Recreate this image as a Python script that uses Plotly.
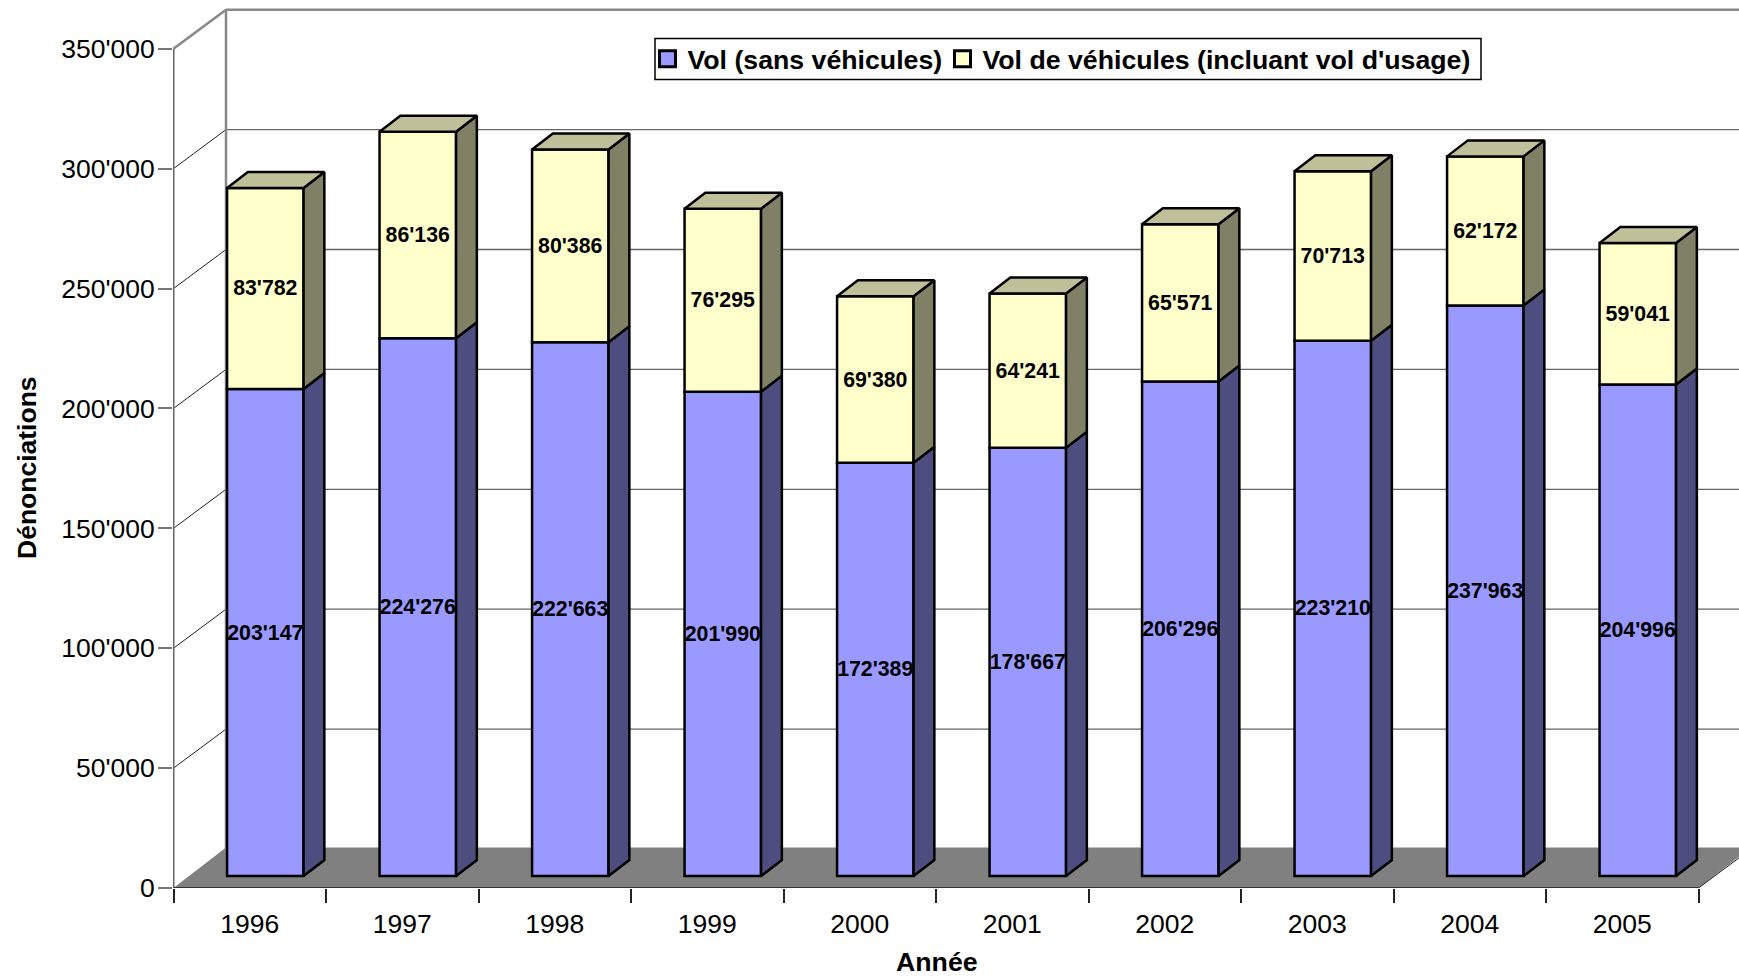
import plotly.graph_objects as go

# ---- data ----
years = ["1996", "1997", "1998", "1999", "2000", "2001", "2002", "2003", "2004", "2005"]
vol_sans = [203147, 224276, 222663, 201990, 172389, 178667, 206296, 223210, 237963, 204996]
vol_vehicules = [83782, 86136, 80386, 76295, 69380, 64241, 65571, 70713, 62172, 59041]
y_ticks = [0, 50000, 100000, 150000, 200000, 250000, 300000, 350000]
series_names = ["Vol (sans véhicules)", "Vol de véhicules (incluant vol d'usage)"]

# ---- oblique projection, in axis units ----
PX_X = 152.5             # px per category
PX_Y = 119.9 / 50000     # px per value unit
WIDTH, HEIGHT = 1739, 978
M_L, M_B = 173, 90
WALL_DX, WALL_DY = 52.5 / PX_X, 39 / PX_Y
BAR_DX, BAR_DY = 0.102, 11.9 / PX_Y
BAR_W = 76.5 / PX_X
DEPTH_DX, DEPTH_DY = 20.8 / PX_X, 16 / PX_Y
X_MAX = (WIDTH - M_L) / PX_X - 0.5 / PX_X
X_MIN = -0.5 / PX_X
Y_MAX = (HEIGHT - M_B) / PX_Y

FONT = "Liberation Sans, Arial, sans-serif"
BLUE, BLUE_SIDE = "#9999FF", "#4D4D80"
YEL, YEL_SIDE, YEL_TOP = "#FFFFCC", "#808066", "#BFBF99"
OUTLINE = 2.5
n = len(years)
centers = [i + 0.5 for i in range(n)]
bar_x = [c + BAR_DX for c in centers]
fmt = lambda v: f"{v:,}".replace(",", "'")
tops = [a + b for a, b in zip(vol_sans, vol_vehicules)]

fig = go.Figure()

# front faces
fig.add_bar(x=bar_x, y=vol_sans, base=[BAR_DY] * n, width=BAR_W, name=series_names[0],
            marker=dict(color=BLUE, line=dict(color="black", width=OUTLINE)),
            text=[fmt(v) for v in vol_sans], showlegend=False)
fig.add_bar(x=bar_x, y=vol_vehicules, base=[BAR_DY + v for v in vol_sans], width=BAR_W,
            name=series_names[1],
            marker=dict(color=YEL, line=dict(color="black", width=OUTLINE)),
            text=[fmt(v) for v in vol_vehicules], showlegend=False)
fig.update_traces(textposition="inside", insidetextanchor="middle", textangle=0,
                  constraintext="none", hoverinfo="skip",
                  insidetextfont=dict(family=FONT, size=21.3, color="black"),
                  textfont=dict(family=FONT, size=21.3, color="black", weight="bold"))


def side_faces(lows, highs):
    xs, ys = [], []
    for bx, lo, hi in zip(bar_x, lows, highs):
        r = bx + BAR_W / 2
        xs += [r, r + DEPTH_DX, r + DEPTH_DX, r, r, None]
        ys += [lo + BAR_DY, lo + BAR_DY + DEPTH_DY, hi + BAR_DY + DEPTH_DY, hi + BAR_DY, lo + BAR_DY, None]
    return xs, ys


def top_faces(highs):
    xs, ys = [], []
    for bx, hi in zip(bar_x, highs):
        l, r = bx - BAR_W / 2, bx + BAR_W / 2
        xs += [l, r, r + DEPTH_DX, l + DEPTH_DX, l, None]
        ys += [hi + BAR_DY, hi + BAR_DY, hi + BAR_DY + DEPTH_DY, hi + BAR_DY + DEPTH_DY, hi + BAR_DY, None]
    return xs, ys


for (xs, ys), col in [(side_faces([0] * n, vol_sans), BLUE_SIDE),
                      (side_faces(vol_sans, tops), YEL_SIDE),
                      (top_faces(tops), YEL_TOP)]:
    fig.add_scatter(x=xs, y=ys, mode="lines", fill="toself", fillcolor=col,
                    line=dict(color="black", width=OUTLINE), showlegend=False,
                    hoverinfo="skip", connectgaps=False)

# front axis lines
fig.add_scatter(x=[0, 0], y=[0, 350000], mode="lines", line=dict(color="#666666", width=2),
                cliponaxis=False, showlegend=False, hoverinfo="skip")
fig.add_scatter(x=[0, n], y=[0, 0], mode="lines", line=dict(color="#333333", width=2),
                cliponaxis=False, showlegend=False, hoverinfo="skip")

# legend keys
for k, (name, col) in enumerate(zip(series_names, [BLUE, YEL])):
    fig.add_scatter(x=[None], y=[None], mode="markers", name=name,
                    marker=dict(symbol="square", size=16, color=col, line=dict(color="black", width=3)),
                    **({"legendwidth": 250} if k == 0 else {}))

# walls and floor, behind the bars
FLOOR_BACK = WALL_DY + 1.5 / PX_Y
shapes = []
shapes.append(dict(type="path", layer="below", xref="x", yref="y", fillcolor="#808080",
                   line=dict(width=0),
                   path=f"M0,0 L{WALL_DX},{FLOOR_BACK} L{n + WALL_DX},{FLOOR_BACK} L{n},0 Z"))
for v in y_ticks:
    top = v == y_ticks[-1]
    if v > 0:
        shapes.append(dict(type="line", layer="below", xref="x", yref="y", x0=0, y0=v,
                           x1=WALL_DX, y1=v + WALL_DY,
                           line=dict(color="#888888" if top else "#222222", width=2.5 if top else 1)))
        shapes.append(dict(type="line", layer="below", xref="x", yref="y", x0=WALL_DX, y0=v + WALL_DY,
                           x1=n + WALL_DX, y1=v + WALL_DY,
                           line=dict(color="#888888" if top else "#666666", width=2.5 if top else 1.3)))
shapes.append(dict(type="line", layer="below", xref="x", yref="y", x0=WALL_DX, y0=WALL_DY, x1=WALL_DX,
                   y1=350000 + WALL_DY, line=dict(color="#888888", width=2.5)))
shapes.append(dict(type="line", layer="below", xref="x", yref="y", x0=n, y0=0, x1=n + WALL_DX, y1=WALL_DY,
                   line=dict(color="#222222", width=1)))
# legend frame
LEG_L, LEG_R, LEG_T, LEG_B = 655, 1481, 38.5, 79.5
shapes.append(dict(type="rect", layer="below", xref="paper", yref="paper",
                   x0=(LEG_L - M_L) / (WIDTH - M_L), x1=(LEG_R - M_L) / (WIDTH - M_L),
                   y0=(888 - LEG_B) / 888, y1=(888 - LEG_T) / 888,
                   fillcolor="white", line=dict(color="black", width=1.5)))

fig.update_layout(
    width=WIDTH, height=HEIGHT, autosize=False, separators=".'",
    margin=dict(l=M_L, r=0, t=0, b=M_B, pad=0),
    paper_bgcolor="white", plot_bgcolor="white", barmode="overlay",
    font=dict(family=FONT, size=26.5, color="black"),
    shapes=shapes,
    xaxis=dict(range=[X_MIN, X_MAX], showgrid=False, zeroline=False, showline=False,
               tickmode="array", tickvals=centers, ticktext=years,
               ticks="outside", ticklen=12, tickcolor="rgba(0,0,0,0)",
               tickfont=dict(size=26.5, family=FONT),
               minor=dict(tickmode="array", tickvals=list(range(n + 1)), ticks="outside",
                          ticklen=14, tickcolor="#222222", tickwidth=1.5, showgrid=False)),
    yaxis=dict(range=[0, Y_MAX], showgrid=False, zeroline=False, showline=False,
               tickmode="array", tickvals=y_ticks, tickformat=",d",
               ticks="outside", ticklen=14, tickcolor="#777777", tickwidth=2,
               ticklabelstandoff=-2,
               tickfont=dict(size=26.5, family=FONT)),
    legend=dict(orientation="h", xref="paper", yref="paper", xanchor="left", yanchor="top",
                x=(647.5 - M_L) / (WIDTH - M_L), y=(888 - 35) / 888,
                bgcolor="rgba(0,0,0,0)", borderwidth=0,
                font=dict(family=FONT, size=26.7, color="black", weight="bold")),
    annotations=[
        dict(text="<b>Dénonciations</b>", xref="paper", yref="paper", textangle=-90, showarrow=False,
             x=(27 - M_L) / (WIDTH - M_L), y=(888 - 468) / 888, xanchor="center", yanchor="middle",
             font=dict(family=FONT, size=26.5)),
        dict(text="<b>Année</b>", xref="paper", yref="paper", showarrow=False,
             x=(937 - M_L) / (WIDTH - M_L), y=(888 - 962) / 888, xanchor="center", yanchor="middle",
             font=dict(family=FONT, size=26.7)),
    ],
)

fig.write_html("out.html", config={"displayModeBar": False},
               post_script="document.body.style.margin='0';document.documentElement.style.overflow='hidden';")
